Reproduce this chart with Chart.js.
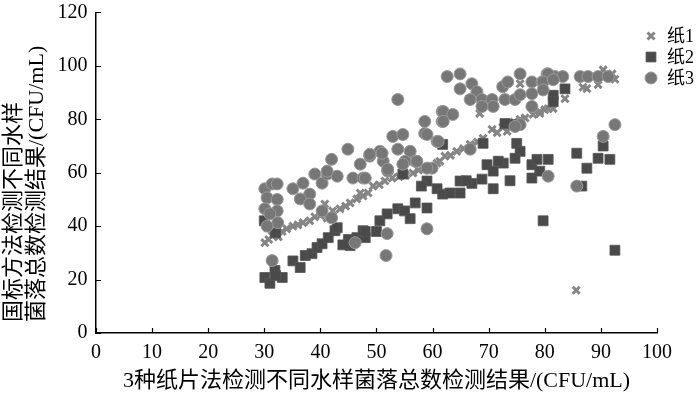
<!DOCTYPE html>
<html>
<head>
<meta charset="utf-8">
<script src="https://cdn.jsdelivr.net/npm/chart.js@4/dist/chart.umd.min.js"></script>
<style>
  html, body { margin: 0; padding: 0; background: #fff; }
  #wrap { width: 700px; height: 393px; }
</style>
</head>
<body>
<div id="wrap"><canvas id="scatter"></canvas></div>
<script>
// series names
const seriesNames = ["纸1", "纸2", "纸3"]

// 纸1
const paper1X = [30.1, 30.8, 31.4, 31.9, 32.5, 33.2, 34, 35.1, 36, 36.9, 38.1, 39, 40, 40.8, 41.2, 42.2, 43.5, 44.5, 45.3, 46.5, 47.1, 47.6, 48.5, 49.4, 50.5, 51.5, 52.8, 54, 55.2, 56.5, 57.5, 58.5, 59.6, 60.8, 61.3, 62.2, 63.2, 64.3, 65.5, 66.7, 67, 68, 69, 70.6, 71.5, 72.5, 73.3, 74.5, 75.6, 76.5, 77.9, 79.1, 79.1, 80, 80.6, 81.5, 83.6, 86.8, 87.5, 89.5, 90.4, 92.5, 92, 75.6, 68.4, 85.6]
const paper1Y = [33.8, 35, 36.4, 37.5, 36, 38, 39, 40, 40.5, 41.3, 42, 43.5, 44, 48.3, 43, 45.7, 46.5, 47.5, 48.7, 50.2, 52.4, 51.3, 52.4, 55, 55.5, 56.9, 58, 58.5, 59, 59.9, 61, 62, 62.5, 63.6, 64.3, 66.2, 66.5, 68, 69, 70.6, 69.9, 71.5, 72.9, 76.2, 75, 77, 75.5, 79, 80, 80.5, 81.8, 82.9, 82.2, 83.6, 84, 84, 87.7, 92, 91.5, 93, 98.5, 95, 97, 93.3, 82.2, 16]

// 纸2
const paper2X = [30.1, 31, 31.9, 33.2, 32, 30, 32, 35.1, 36.4, 37.3, 38.5, 39.4, 40.3, 41.4, 42.6, 43, 45.3, 46.5, 47.6, 48, 48, 50, 50.6, 51.9, 53.8, 55, 56, 56.9, 59, 59, 60.8, 61.8, 63.1, 64.9, 64.9, 67, 61.8, 54.7, 69, 75, 75.6, 74.7, 69.7, 70.8, 72.6, 68.8, 70.8, 73.8, 77.7, 78.6, 80.6, 77.7, 79.1, 85.7, 87.5, 86.6, 89.5, 90.4, 91.6, 79.7, 92.5, 83.6, 81.5, 81.5, 72.9, 74.7, 71.7, 66, 58, 45, 44]
const paper2Y = [20.8, 18.6, 23.4, 20.8, 21.5, 42, 37.5, 27, 24.5, 29, 29.7, 32, 33.4, 35.7, 38.3, 39.4, 32.7, 35.7, 38.3, 35.7, 38, 38, 42, 44.6, 46.5, 45.7, 42.8, 48.7, 46.8, 56.9, 54, 52, 52.4, 52.4, 56.9, 56, 70.6, 59.5, 71, 71, 68, 65.4, 63, 60.6, 63.6, 57.6, 54, 57, 63, 65, 65, 58, 60.6, 67.3, 61.7, 55, 65.4, 70, 65, 42, 31, 91.4, 89, 86.6, 78.4, 78, 64.3, 57, 55, 35, 33]

// 纸3
const paper3X = [30.1, 31.4, 32.3, 30.5, 32.3, 30.1, 32.3, 31, 32.4, 31.4, 35.1, 36.9, 38.1, 36.4, 38.1, 39, 40.3, 41.2, 43, 40.3, 42, 46.2, 45.8, 47.6, 53.8, 62.6, 44.9, 52.9, 54.7, 58.6, 58.6, 61.7, 61.7, 60.8, 48.8, 50.6, 51.2, 53.8, 56, 56.9, 55.1, 42, 41.2, 47.1, 52, 59.9, 59, 61, 66.7, 48.8, 51, 54.7, 57.2, 48, 52, 59, 51.9, 59, 51.7, 64.9, 64.9, 67, 67.9, 66.7, 68.8, 70.6, 70.8, 68.8, 72.9, 74.7, 72.5, 73.4, 75.6, 75.6, 77.7, 77.7, 79.5, 80.4, 81.8, 77.7, 61.9, 63.6, 61.9, 75.6, 74.7, 80.6, 83.2, 79.7, 81.5, 86.3, 87.7, 89.5, 91.3, 79.7, 92.5, 90.4, 80.6, 85.7, 30.5]
const paper3Y = [54, 55.8, 55.8, 50.6, 50, 46.5, 45.7, 44.6, 41.3, 27.1, 54, 56.1, 52, 50.2, 48.3, 59.5, 56.1, 59.5, 58.7, 45.7, 43.1, 33.8, 58, 58, 87.4, 96, 68.8, 73.6, 74.3, 79.2, 74.7, 82.9, 79.2, 71.7, 66.2, 68, 64.3, 68.8, 68, 64.3, 64.3, 65, 60.6, 63.2, 60.6, 61.7, 74.3, 71.7, 68.8, 66.9, 67.3, 63.2, 64.3, 58, 61.3, 61.7, 37.2, 39, 29, 97, 91.4, 93.3, 90.3, 87.4, 87.4, 87.4, 84.8, 84.8, 87.4, 87.4, 92.2, 94, 97, 89.2, 94, 89.6, 94, 97, 96, 84.8, 82.9, 81.8, 79.2, 78, 77.3, 97, 96, 94, 94.8, 96, 96, 96, 96, 91, 78, 73.6, 58.7, 55, 40]

// axis ticks
const xTicks = [0, 10, 20, 30, 40, 50, 60, 70, 80, 90, 100]
const yTicks = [0, 20, 40, 60, 80, 100, 120]

const xTitle = "3种纸片法检测不同水样菌落总数检测结果/(CFU/mL)"
const yTitle = ["  国标方法检测不同水样", "  菌落总数检测结果/(CFU/mL)"]

const fontFamily = '"Liberation Serif", "Noto Sans CJK SC", serif'

function toPoints(xs, ys) {
    return xs.map((x, i) => ({ x: x, y: ys[i] }))
}

const styles = [
    { pointStyle: 'crossRot', radius: 5, color: '#858585', fill: '#858585', borderWidth: 3 },
    { pointStyle: 'rect', radius: 7, color: '#555555', fill: '#4a4a4a', borderWidth: 0.8 },
    { pointStyle: 'circle', radius: 6, color: '#9a9a9a', fill: '#777777', borderWidth: 1 },
]

const allData = [
    toPoints(paper1X, paper1Y),
    toPoints(paper2X, paper2Y),
    toPoints(paper3X, paper3Y),
]

const datasets = allData.map((pts, i) => ({
    label: seriesNames[i],
    data: pts,
    pointStyle: styles[i].pointStyle,
    pointRadius: styles[i].radius,
    pointBorderColor: styles[i].color,
    pointBackgroundColor: styles[i].fill,
    pointBorderWidth: styles[i].borderWidth,
    showLine: false,
    order: 2 - i,
}))

// inward tick marks
const innerTicks = {
    id: 'innerTicks',
    afterDraw(chart) {
        const ctx = chart.ctx
        const xs = chart.scales.x
        const ys = chart.scales.y
        const area = chart.chartArea
        ctx.save()
        ctx.strokeStyle = '#000'
        ctx.lineWidth = 1.2
        ctx.beginPath()
        xTicks.forEach(v => {
            const px = Math.round(xs.getPixelForValue(v)) + 0.5
            ctx.moveTo(px, area.bottom)
            ctx.lineTo(px, area.bottom - 5)
        })
        yTicks.forEach(v => {
            const py = Math.round(ys.getPixelForValue(v)) + 0.5
            ctx.moveTo(area.left, py)
            ctx.lineTo(area.left + 5, py)
        })
        ctx.stroke()
        ctx.restore()
    }
}

// legend in the top right corner
const cornerLegend = {
    id: 'cornerLegend',
    afterDraw(chart) {
        const ctx = chart.ctx
        const x0 = 651
        const y0 = 36
        const gap = 21
        ctx.save()
        ctx.font = '18px ' + fontFamily
        ctx.textBaseline = 'middle'
        seriesNames.forEach((name, i) => {
            const s = styles[i]
            const y = y0 + i * gap
            ctx.strokeStyle = s.color
            ctx.fillStyle = s.fill
            ctx.lineWidth = s.borderWidth
            Chart.helpers.drawPoint(ctx, {
                pointStyle: s.pointStyle,
                radius: s.radius,
                rotation: 0,
                borderWidth: s.borderWidth,
            }, x0, y)
            ctx.fillStyle = '#000'
            ctx.fillText(name, x0 + 16, y + 1)
        })
        ctx.restore()
    }
}

const canvas = document.getElementById('scatter')
const chart = new Chart(canvas, {
    type: 'scatter',
    data: { datasets: datasets },
    options: {
        responsive: true,
        maintainAspectRatio: false,
        animation: false,
        layout: { padding: { left: 2, right: 43, top: 0, bottom: 0 } },
        plugins: {
            legend: { display: false },
            tooltip: { enabled: false },
        },
        scales: {
            x: {
                type: 'linear',
                min: 0,
                max: 100,
                afterBuildTicks: axis => { axis.ticks = xTicks.map(v => ({ value: v })) },
                grid: { display: true, drawOnChartArea: false, drawTicks: false },
                border: { display: true, color: '#000', width: 1.5 },
                ticks: {
                    color: '#000',
                    padding: 10,
                    maxRotation: 0,
                    font: { family: fontFamily, size: 20, lineHeight: 1 },
                },
                title: {
                    display: true,
                    text: xTitle,
                    color: '#000',
                    padding: { top: -3, bottom: 1 },
                    font: { family: fontFamily, size: 22, lineHeight: 1 },
                },
            },
            y: {
                type: 'linear',
                min: 0,
                max: 120,
                afterBuildTicks: axis => { axis.ticks = yTicks.map(v => ({ value: v })) },
                grid: { display: true, drawOnChartArea: false, drawTicks: false },
                border: { display: true, color: '#000', width: 1.5 },
                ticks: {
                    color: '#000',
                    padding: 8.45,
                    font: { family: fontFamily, size: 20, lineHeight: 0.4 },
                },
                title: {
                    display: true,
                    text: yTitle,
                    align: 'start',
                    color: '#000',
                    padding: { top: 0, bottom: 0 },
                    font: { family: fontFamily, size: 22, lineHeight: 1.07 },
                },
            },
        },
    },
    plugins: [innerTicks, cornerLegend],
})
</script>
</body>
</html>
